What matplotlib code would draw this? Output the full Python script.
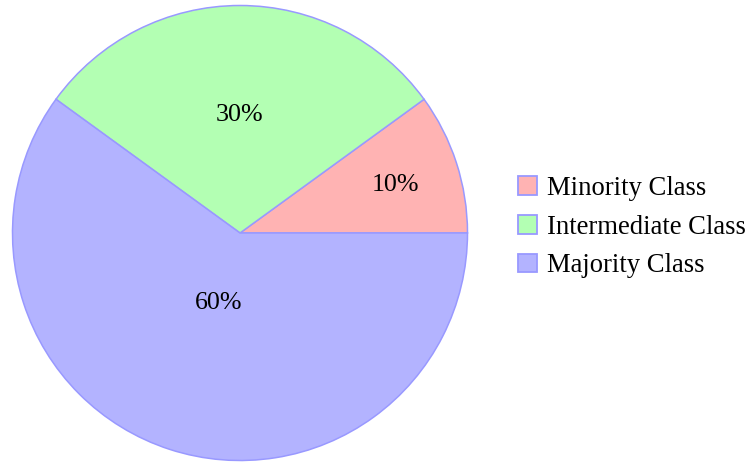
import matplotlib
matplotlib.use("Agg")
import matplotlib.pyplot as plt
from matplotlib.patches import Patch
import numpy as np

categories = ["Minority Class", "Intermediate Class", "Majority Class"]
values = [10, 30, 60]
colors = ["#FFB3B3", "#B3FFB3", "#B3B3FF"]
edge = "#9999FF"
label_dist = [0.72, 0.53, 0.31]

plt.rcParams['font.family'] = ['Liberation Serif', 'DejaVu Serif']
plt.rcParams['mathtext.fontset'] = 'stix'

W, H = 748, 463
fig = plt.figure(figsize=(W/100, H/100), dpi=100)
cx, cy, r = 240, 233, 227.5
ax = fig.add_axes([(cx - r)/W, (H - cy - r)/H, 2*r/W, 2*r/H])

wedges, texts, autotexts = ax.pie(values, colors=colors, startangle=0, counterclock=True,
                                  autopct=lambda p: f"{p:.0f}%",
                                  wedgeprops=dict(edgecolor=edge, linewidth=1.1),
                                  textprops=dict(fontsize=18.7, color='black'))
dy = 3 / r
for w, t, d in zip(wedges, autotexts, label_dist):
    ang = np.deg2rad((w.theta1 + w.theta2) / 2)
    t.set_position((d*np.cos(ang), d*np.sin(ang) - dy))
    w.set_clip_on(False)
ax.set_xlim(-1, 1)
ax.set_ylim(-1, 1)
ax.set_aspect('equal')
ax.axis('off')

handles = [Patch(facecolor=c, edgecolor=edge, linewidth=1.3) for c in colors]
fig.legend(handles, categories, loc='center left', bbox_to_anchor=(518/W, 1 - 227/H),
           frameon=False, fontsize=19.2, handlelength=0.70, handleheight=0.70,
           handletextpad=0.40, labelspacing=0.52, borderpad=0, borderaxespad=0)

fig.savefig("out.png", dpi=100)
